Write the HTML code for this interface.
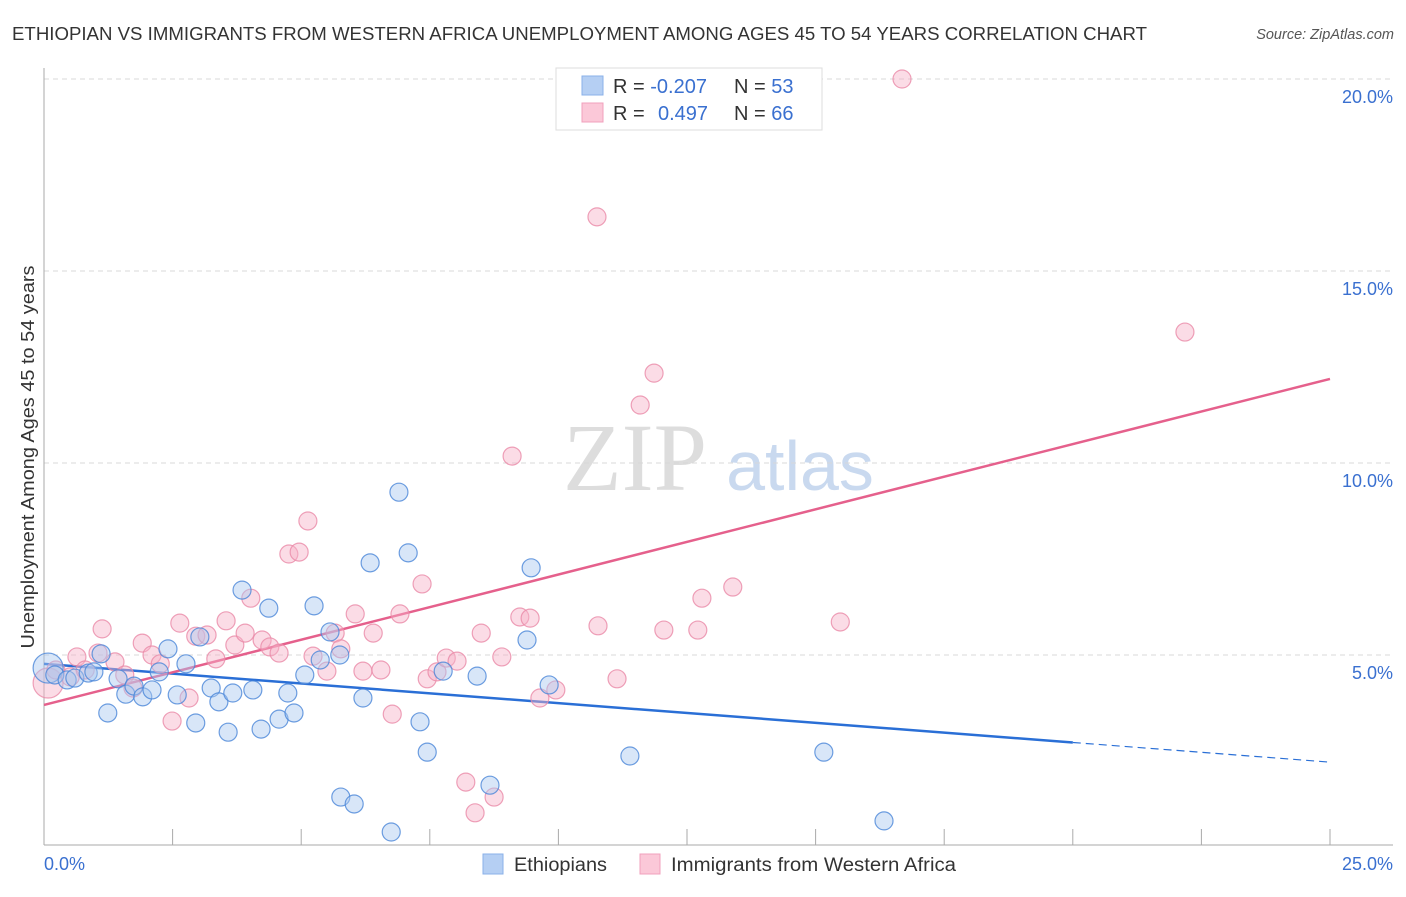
<!DOCTYPE html>
<html><head><meta charset="utf-8"><style>
body{margin:0;background:#fff;font-family:"Liberation Sans",sans-serif}
svg text{font-family:"Liberation Sans",sans-serif}
</style></head><body>
<svg id="chart" width="1406" height="892" xmlns="http://www.w3.org/2000/svg">
<text x="12" y="40" font-size="18" fill="#333" textLength="1135" lengthAdjust="spacingAndGlyphs">ETHIOPIAN VS IMMIGRANTS FROM WESTERN AFRICA UNEMPLOYMENT AMONG AGES 45 TO 54 YEARS CORRELATION CHART</text>
<text x="1394" y="39" font-size="14.5" fill="#555" font-style="italic" text-anchor="end">Source: ZipAtlas.com</text>
<text transform="translate(34,457) rotate(-90)" font-size="18" fill="#333" text-anchor="middle" textLength="383" lengthAdjust="spacingAndGlyphs">Unemployment Among Ages 45 to 54 years</text>
<g>
<text x="635" y="490" font-size="96" fill="#ddd" font-family="Liberation Serif" text-anchor="middle" style="font-family:'Liberation Serif',serif">ZIP</text>
<text x="800" y="490" font-size="70" fill="#c9d9ef" text-anchor="middle">atlas</text></g>
<g id="grid"></g><g id="axes"></g><g id="lines"></g><g id="pts"></g>
<g>
<rect x="556" y="68" width="266" height="62" fill="#fff" stroke="#ddd"/>
<rect x="582" y="76" width="21" height="19" fill="#b5cff3" stroke="#8ab0e8"/>
<rect x="582" y="103" width="21" height="19" fill="#fbc8d8" stroke="#f0a0bc"/>
<text x="613" y="93" font-size="20" fill="#333">R = <tspan fill="#3a70d0">-0.207</tspan><tspan x="734">N = </tspan><tspan fill="#3a70d0">53</tspan></text>
<text x="613" y="120" font-size="20" fill="#333">R = <tspan x="658" fill="#3a70d0">0.497</tspan><tspan x="734">N = </tspan><tspan fill="#3a70d0">66</tspan></text>
</g>
<g>
<rect x="483" y="854" width="20" height="20" fill="#b5cff3" stroke="#8ab0e8"/>
<text x="514" y="871" font-size="19" fill="#333" textLength="93" lengthAdjust="spacingAndGlyphs">Ethiopians</text>
<rect x="640" y="854" width="20" height="20" fill="#fbc8d8" stroke="#f0a0bc"/>
<text x="671" y="871" font-size="19" fill="#333" textLength="285" lengthAdjust="spacingAndGlyphs">Immigrants from Western Africa</text>
</g>
</svg>
<script>
const blueX=[0.08,0.21,0.45,0.60,0.86,0.97,1.11,1.24,1.44,1.59,1.75,1.92,2.10,2.24,2.41,2.59,2.76,2.95,3.03,3.25,3.40,3.58,3.67,3.85,4.06,4.22,4.37,4.57,4.74,4.86,5.07,5.25,5.37,5.56,5.75,5.77,6.03,6.20,6.34,6.75,6.90,7.08,7.31,7.45,7.76,8.42,8.67,9.39,9.47,9.82,11.39,15.16,16.33];
const blueY=[4.66,4.48,4.35,4.40,4.53,4.56,5.03,3.49,4.38,3.98,4.19,3.91,4.09,4.56,5.16,3.96,4.77,3.23,5.47,4.14,3.78,2.99,4.01,6.69,4.09,3.07,6.22,3.33,4.01,3.49,4.48,6.28,4.87,5.60,5.00,1.30,1.12,3.88,7.40,0.39,9.24,7.66,3.26,2.47,4.58,4.45,1.61,5.39,7.27,4.22,2.37,2.47,0.68];
const pinkX=[0.08,0.23,0.51,0.64,0.80,1.05,1.13,1.38,1.57,1.73,1.91,2.10,2.26,2.49,2.64,2.82,2.95,3.17,3.34,3.54,3.71,3.91,4.02,4.24,4.39,4.57,4.76,4.96,5.13,5.23,5.50,5.66,5.77,6.05,6.20,6.40,6.55,6.77,6.92,7.35,7.45,7.64,7.82,8.03,8.20,8.38,8.50,8.75,8.90,9.10,9.25,9.45,9.64,9.95,10.75,10.77,11.14,11.59,11.86,12.05,12.71,12.79,13.39,15.48,16.68,22.18];
const pinkY=[4.27,4.61,4.43,4.95,4.61,5.05,5.68,4.82,4.48,4.14,5.31,5.00,4.77,3.28,5.83,3.88,5.49,5.52,4.90,5.89,5.26,5.57,6.48,5.39,5.21,5.05,7.63,7.68,8.49,4.97,4.58,5.57,5.16,6.07,4.58,5.57,4.61,3.46,6.07,6.85,4.38,4.56,4.92,4.84,1.69,0.89,5.57,1.30,4.95,10.18,5.99,5.96,3.88,4.09,16.41,5.76,4.38,11.51,12.34,5.65,5.65,6.48,6.77,5.86,20.00,13.41];
const blueTrend=[4.77,2.21], blueSolidEnd=20.0;
const pinkTrend=[3.70,12.19];
const yTicks=[5,10,15,20];
const xTicks=[0,2.5,5,7.5,10,12.5,15,17.5,20,22.5,25];
const NS='http://www.w3.org/2000/svg';
const X=v=>44+v*1286/25, Y=v=>847-v*38.4;
function mk(p,t,a){const e=document.createElementNS(NS,t);for(const k in a)e.setAttribute(k,a[k]);document.getElementById(p).appendChild(e);return e;}
yTicks.forEach(t=>{const g=mk('grid','line',{x1:44,x2:1393,y1:Y(t),y2:Y(t),stroke:'#d8d8d8','stroke-dasharray':'5,4'});


const l=mk('grid','text',{x:1393,y:Y(t)+24,'font-size':18,fill:'#3a70d0','text-anchor':'end'});l.textContent=t.toFixed(1)+'%';

});
const ax=mk('axes','line',{x1:44,x2:44,y1:68,y2:845,stroke:'#aaa'});


const bx=mk('axes','line',{x1:44,x2:1393,y1:845,y2:845,stroke:'#aaa'});


xTicks.forEach(t=>{const e=mk('axes','line',{x1:X(t),x2:X(t),y1:829,y2:845,stroke:'#aaa'});

});
const x0=mk('axes','text',{x:44,y:870,'font-size':18,fill:'#3a70d0'});x0.textContent=xTicks[0].toFixed(1)+'%';


const x1=mk('axes','text',{x:1393,y:870,'font-size':18,fill:'#3a70d0','text-anchor':'end'});x1.textContent=xTicks[xTicks.length-1].toFixed(1)+'%';


function pts(xs,ys,fill,stroke,name){xs.forEach((x,i)=>{const c=mk('pts','circle',{cx:X(x),cy:Y(ys[i]),r:i===0?15:9,fill:fill,'fill-opacity':0.45,stroke:stroke,'stroke-width':1.2,'stroke-opacity':0.8});

});}
pts(pinkX,pinkY,'#f7b2c8','#ea8aa8','point-western-africa');
pts(blueX,blueY,'#a9c8f0','#4a86d8','point-ethiopians');
const bt=v=>blueTrend[0]+(blueTrend[1]-blueTrend[0])*v/25;
const l1=mk('lines','line',{x1:X(0),y1:Y(bt(0)),x2:X(blueSolidEnd),y2:Y(bt(blueSolidEnd)),stroke:'#2a6fd6','stroke-width':2.5});


const l2=mk('lines','line',{x1:X(blueSolidEnd),y1:Y(bt(blueSolidEnd)),x2:X(25),y2:Y(bt(25)),stroke:'#2a6fd6','stroke-width':1.2,'stroke-dasharray':'8,5'});


const l3=mk('lines','line',{x1:X(0),y1:Y(pinkTrend[0]),x2:X(25),y2:Y(pinkTrend[1]),stroke:'#e5608c','stroke-width':2.5});


</script>
</body></html>
